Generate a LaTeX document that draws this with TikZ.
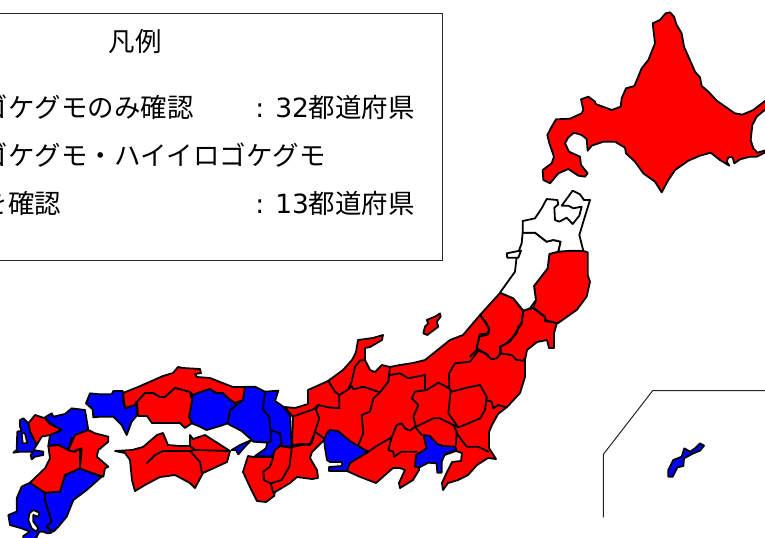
\documentclass[tikz,border=0pt]{standalone}
\usepackage{fontspec}
\newfontfamily\cjk{Noto Sans CJK JP}
\newfontfamily\lat{DejaVu Sans}
\tikzset{
  pref/.style={draw=black,line width=1.35pt,line join=round},
  redp/.style={pref,fill=red},
  bluep/.style={pref,fill=blue},
  whitep/.style={pref,fill=white},
  bdr/.style={draw=black,line width=1.35pt,line join=round,line cap=round},
  thinln/.style={draw=black!85,line width=0.75pt},
  lg/.style={inner sep=0pt,font=\cjk\fontsize{19.85pt}{24pt}\selectfont},
  lgl/.style={inner sep=0pt,font=\lat\fontsize{19.85pt}{24pt}\selectfont},
  zoomed/.style={x=.25pt,y=-.25pt}
}
\begin{document}
\begin{tikzpicture}[x=.75pt,y=-.75pt]
\useasboundingbox (0,0) rectangle (765,537);
\clip (0,0) rectangle (765,537);
\fill[white] (0,0) rectangle (765,537);
% legend
\draw[thinln] (-5,13) rectangle (442,260);
\node[lg,anchor=center] (title) at (135,42) {凡例};
\node[lg,anchor=base west] (l1) at (-18.3,117) {ゴケグモのみ確認};
\node[lgl,anchor=base west] (c1) at (255,117) {:};
\node[lg,anchor=base west] (v1) at (275,117) {{\lat 32}都道府県};
\node[lg,anchor=base west] (l2) at (-18.3,165) {ゴケグモ・ハイイロゴケグモ};
\node[lg,anchor=base west] (l3) at (-18.3,213) {を確認};
\node[lgl,anchor=base west] (c3) at (255,213) {:};
\node[lg,anchor=base west] (v3) at (275,213) {{\lat 13}都道府県};
% Hokkaido
\begin{scope}[shift={(500,0)},zoomed]
\path[redp] (497,40)--(510,37)--(522,50)--(530,75)--(545,100)--(552,140)--(585,215)--(600,232)--(605,258)--(625,275)--(650,302)--(690,330)--(705,340)--(727,344)--(760,330)--(795,303)--(800,300)--(800,325)--(770,350)--(757,375)--(752,420)--(760,445)--(772,458)--(800,450)--(800,455)--(770,470)--(750,470)--(720,478)--(703,490)--(698,472)--(685,472)--(680,485)--(688,497)--(660,480)--(632,458)--(600,467)--(565,482)--(525,510)--(505,540)--(485,577)--(465,545)--(430,520)--(405,485)--(378,460)--(375,443)--(345,425)--(310,425)--(275,437)--(263,452)--(260,417)--(245,405)--(222,398)--(205,412)--(195,430)--(207,455)--(240,470)--(243,495)--(263,520)--(255,530)--(235,527)--(205,507)--(175,520)--(150,550)--(130,540)--(128,510)--(155,490)--(162,470)--(148,430)--(142,405)--(155,380)--(168,358)--(210,356)--(245,340)--(250,330)--(243,298)--(265,290)--(285,305)--(287,312)--(335,330)--(362,320)--(365,295)--(378,265)--(403,258)--(425,205)--(445,180)--(465,130)--(458,70)--(480,60)--cycle;
\end{scope}
% Honshu, red mass
\path[redp] (500,293)--(513,298)--(523,311)--(533,308)--(545,317)--(545,321)--(557,323)--(554,333)--(554,348)--(549,348)--(547,340)--(537,342)--(527,350)--(525,360)--(525,377)--(520,393)--(507,407)--(498,414)--(492,425)--(489,432)--(489,448)--(496,459)--(488,458)--(477,465)--(468,475)--(458,480)--(448,483)--(443,490)--(442,483)--(447,472)--(452,462)--(461,461)--(462,453)--(456,451)--(430,460)--(419,467)--(419,470)--(413,480)--(400,488)--(399,483)--(405,470)--(400,468)--(393,468)--(385,475)--(376,483)--(358,476)--(347,471)--(345,450)--(330,440)--(324,440)--(317,447)--(312,452)--(310,458)--(317,470)--(318,478)--(312,479)--(297,477)--(290,483)--(275,492)--(274,496)--(266,502)--(257,501)--(250,487)--(243,472)--(248,456)--(254,457)--(273,457)--(275,448)--(280,446)--(292,448)--(293,417)--(285,407)--(295,408)--(308,404)--(308,390)--(328,381)--(343,370)--(352,360)--(356,352)--(358,340)--(373,338)--(383,335)--(382,340)--(370,347)--(365,348)--(365,360)--(370,370)--(375,372)--(382,365)--(390,367)--(400,365)--(413,363)--(425,360)--(450,340)--(463,335)--(480,315)--cycle;
% Tohoku
\begin{scope}[shift={(420,185)},zoomed]
\path[redp] (415,200)--(455,197)--(490,198)--(503,202)--(503,270)--(510,290)--(500,335)--(470,375)--(413,415)--(375,405)--(375,395)--(340,368)--(348,345)--(342,303)--(383,250)--(388,207)--cycle;
\path[whitep] (308,143)--(345,143)--(380,170)--(400,165)--(422,170)--(415,200)--(388,207)--(383,250)--(342,303)--(348,345)--(330,370)--(310,377)--(280,340)--(240,323)--(285,260)--(290,215)--(305,175)--cycle;
\path[whitep] (308,143)--(308,108)--(345,100)--(365,70)--(380,42)--(412,45)--(415,58)--(403,68)--(405,105)--(418,110)--(440,98)--(458,117)--(478,92)--(485,65)--(460,70)--(445,62)--(425,62)--(458,17)--(480,28)--(492,45)--(510,45)--(490,110)--(478,150)--(490,198)--(455,197)--(415,200)--(422,170)--(400,165)--(380,170)--(345,143)--cycle;
\path[whitep] (260,205)--(295,198)--(303,197)--(295,218)--(262,218)--cycle;
\path[redp] (10,445)--(15,425)--(25,415)--(20,405)--(45,395)--(60,385)--(62,395)--(50,410)--(55,425)--(35,440)--(22,450)--cycle;
\path[bdr] (180,390)--(208,430)--(205,448)--(178,455)--(170,490)--(205,510);
\path[bdr] (310,377)--(303,420)--(295,430)--(270,470)--(240,485)--(240,510);
\end{scope}
% Tohoku south, Kanto north borders
\begin{scope}[shift={(470,290)},zoomed]
\path[bdr] (30,75)--(50,100)--(57,120)--(52,130)--(30,133)--(22,165)--(20,180)--(45,190)--(65,208)--(80,205)--(92,190)--(125,195)--(140,210)--(160,212)--(165,205);
\path[bdr] (92,190)--(92,170)--(110,160)--(140,130)--(145,110)--(155,100)--(160,62);
\path[bdr] (20,180)--(0,200);
\end{scope}
% Kanto, Chubu borders
\begin{scope}[shift={(380,330)},zoomed]
\path[bdr] (295,62)--(270,95)--(225,100)--(207,130)--(208,175)--(175,158)--(140,180)--(105,185)--(95,205)--(115,225)--(100,260)--(108,290);
\path[bdr] (135,180)--(135,135)--(85,145)--(60,130)--(30,135);
\path[bdr] (208,175)--(215,185)--(265,172)--(300,165)--(320,200)--(315,240)--(300,265)--(265,280)--(235,292);
\path[bdr] (212,182)--(205,250)--(235,292);
\path[bdr] (320,210)--(335,215)--(340,235)--(355,225)--(378,232);
\path[bdr] (108,290)--(160,265)--(180,265)--(220,285)--(230,305)--(228,345);
\path[bdr] (230,310)--(260,350)--(295,350)--(325,365);
\path[bdr] (220,285)--(235,292);
\end{scope}
\begin{scope}[shift={(280,330)},zoomed]
\path[bdr] (145,153)--(165,185)--(178,195)--(178,235)--(145,232)--(115,225)--(100,238)--(38,260);
\path[bdr] (178,195)--(205,178)--(215,168)--(220,178)--(250,170)--(300,187);
\path[bdr] (205,178)--(215,155)--(225,110)--(240,92)--(255,90);
\path[bdr] (300,187)--(325,155)--(330,110);
\path[bdr] (300,187)--(280,205)--(270,245)--(245,255)--(250,310)--(235,345);
\path[bdr] (115,225)--(108,240)--(118,265)--(105,305)--(132,325);
\path[bdr] (105,305)--(95,340)--(40,350)--(30,340);
\end{scope}
\begin{scope}[shift={(330,400)},zoomed]
\path[bdr] (60,125)--(115,155)--(145,135)--(185,112)--(200,75)--(215,70)--(225,85)--(240,92)--(255,80);
\path[bdr] (185,112)--(175,150)--(190,155)--(192,170)--(215,155)--(260,155);
\path[bdr] (255,80)--(275,105);
\end{scope}
% Kii
\begin{scope}[shift={(230,420)},zoomed]
\path[bdr] (130,112)--(120,140)--(100,155)--(102,180)--(122,190)--(155,180)--(178,140)--(185,87);
\path[bdr] (122,190)--(133,228);
\path[bdr] (190,75)--(215,72)--(240,75)--(255,35);
\end{scope}
% Kanto blue and Tokai blue
\begin{scope}[shift={(380,330)},zoomed]
\path[bluep] (130,315)--(150,318)--(172,342)--(190,348)--(225,350)--(230,360)--(195,372)--(185,395)--(185,428)--(172,428)--(170,400)--(145,398)--(118,412)--(105,410)--(108,375)--(140,355)--cycle;
\end{scope}
\path[bluep] (324,440)--(327,433)--(330,430)--(338,431)--(350,441)--(368,452)--(350,463)--(347,471)--(329,471)--(329,467)--(342,466)--(342,462)--(330,462)--(327,460)--(325,448)--cycle;
% Kinki and Chugoku, blue
\begin{scope}[shift={(180,375)},zoomed]
\path[bluep] (143,145)--(150,150)--(185,168)--(210,190)--(220,200)--(262,203)--(258,220)--(225,243)--(275,245)--(285,225)--(300,213)--(335,215)--(330,120)--(310,95)--(285,78)--(295,47)--(255,50)--(225,35)--(195,35)--(188,75)--(170,90)--(150,105)--cycle;
\path[bdr] (255,55)--(250,90)--(250,105)--(268,125)--(272,170)--(272,200)--(262,203);
\path[bdr] (272,165)--(300,175)--(305,205)--(300,213);
\path[bluep] (38,60)--(60,50)--(90,42)--(110,55)--(130,55)--(145,70)--(165,85)--(170,90)--(150,105)--(143,145)--(120,153)--(80,165)--(60,155)--(35,145)--(28,125)--cycle;
\path[bluep] (215,195)--(195,215)--(175,238)--(168,225)--(155,225)--(180,210)--cycle;
\end{scope}
% Chugoku, red
\path[redp] (123,393)--(138,387)--(163,376)--(173,373)--(178,367)--(183,368)--(200,369)--(201,373)--(195,374)--(197,377)--(210,378)--(220,382)--(233,387)--(245,387)--(243,400)--(235,403)--(228,398)--(223,393)--(217,393)--(210,389)--(200,392)--(193,395)--(190,392)--(175,388)--(165,397)--(160,397)--(153,393)--(145,393)--(137,402)--(135,405)--(125,408)--cycle;
\path[redp] (137,402)--(145,393)--(153,393)--(160,397)--(165,397)--(175,388)--(190,392)--(192,400)--(189,417)--(192,423)--(185,428)--(180,423)--(152,423)--(147,416)--(138,416)--cycle;
\begin{scope}[shift={(80,355)},zoomed]
\path[bluep] (18,145)--(30,115)--(60,118)--(95,118)--(100,108)--(128,108)--(130,115)--(128,130)--(135,160)--(165,150)--(170,140)--(170,182)--(155,200)--(140,240)--(125,210)--(100,185)--(60,185)--(40,187)--(38,163)--cycle;
\end{scope}
% Shikoku
\path[redp] (115,451)--(132,450)--(143,447)--(157,435)--(163,433)--(168,445)--(180,446)--(190,446)--(190,435)--(193,439)--(205,435)--(230,451)--(227,462)--(203,473)--(195,488)--(190,483)--(175,475)--(160,477)--(145,485)--(135,491)--(132,480)--(130,460)--(125,453)--cycle;
\path[bdr] (147,463)--(155,455)--(163,451)--(190,451)--(195,450)--(230,451);
\path[bdr] (180,446)--(190,446)--(195,450);
\path[bdr] (190,451)--(200,462)--(202,473);
% Kyushu
\begin{scope}[shift={(0,400)},zoomed]
\path[bluep] (135,52)--(155,40)--(160,50)--(195,42)--(215,25)--(255,30)--(265,90)--(235,108)--(215,115)--(205,150)--(175,135)--(145,138)--(150,105)--(185,90)--(150,70)--cycle;
\path[redp] (85,70)--(105,45)--(135,55)--(150,72)--(185,90)--(150,105)--(125,110)--(110,135)--(90,95)--cycle;
\path[bluep] (60,60)--(70,55)--(85,70)--(90,95)--(110,135)--(100,150)--(130,155)--(130,165)--(105,170)--(95,178)--(92,165)--(100,155)--(60,155)--(40,158)--(50,150)--(52,95)--(65,92)--(60,80)--cycle;
\path[whitep] (65,100)--(75,100)--(82,130)--(68,130)--cycle;
\path[bluep] (90,248)--(135,278)--(135,300)--(155,365)--(140,380)--(155,398)--(142,400)--(130,395)--(118,395)--(105,420)--(70,420)--(70,408)--(90,395)--(65,385)--(30,375)--(25,345)--(50,335)--(50,295)--(65,260)--cycle;
\path[whitep] (88,340)--(100,330)--(118,338)--(115,350)--(100,345)--(100,365)--(115,385)--(108,395)--(95,385)--(85,360)--cycle;
\path[bluep] (135,278)--(180,275)--(195,225)--(240,205)--(265,215)--(305,230)--(260,270)--(220,300)--(200,350)--(175,380)--(160,395)--(140,380)--(155,365)--(135,300)--cycle;
\path[redp] (145,138)--(175,135)--(205,150)--(225,155)--(240,145)--(240,205)--(195,225)--(180,275)--(135,278)--(90,248)--(135,205)--(150,175)--cycle;
\path[redp] (205,150)--(225,105)--(265,90)--(285,100)--(325,110)--(325,125)--(295,150)--(290,170)--(325,200)--(315,205)--(310,230)--(265,215)--(240,205)--(245,145)--(230,150)--(220,155)--cycle;
\end{scope}
% Okinawa inset
\begin{scope}[shift={(590,380)},zoomed]
\coordinate (ia) at (40,412);
\coordinate (ib) at (40,223);
\coordinate (ic) at (188,32);
\coordinate (id) at (525,32);
\draw[thinln] (ia)--(ib)--(ic)--(id);
\path[bluep] (235,290)--(235,270)--(250,240)--(275,230)--(283,205)--(300,215)--(315,205)--(330,190)--(342,197)--(330,212)--(310,220)--(282,235)--(280,258)--(262,262)--(248,290)--cycle;
\end{scope}
\end{tikzpicture}
\end{document}
